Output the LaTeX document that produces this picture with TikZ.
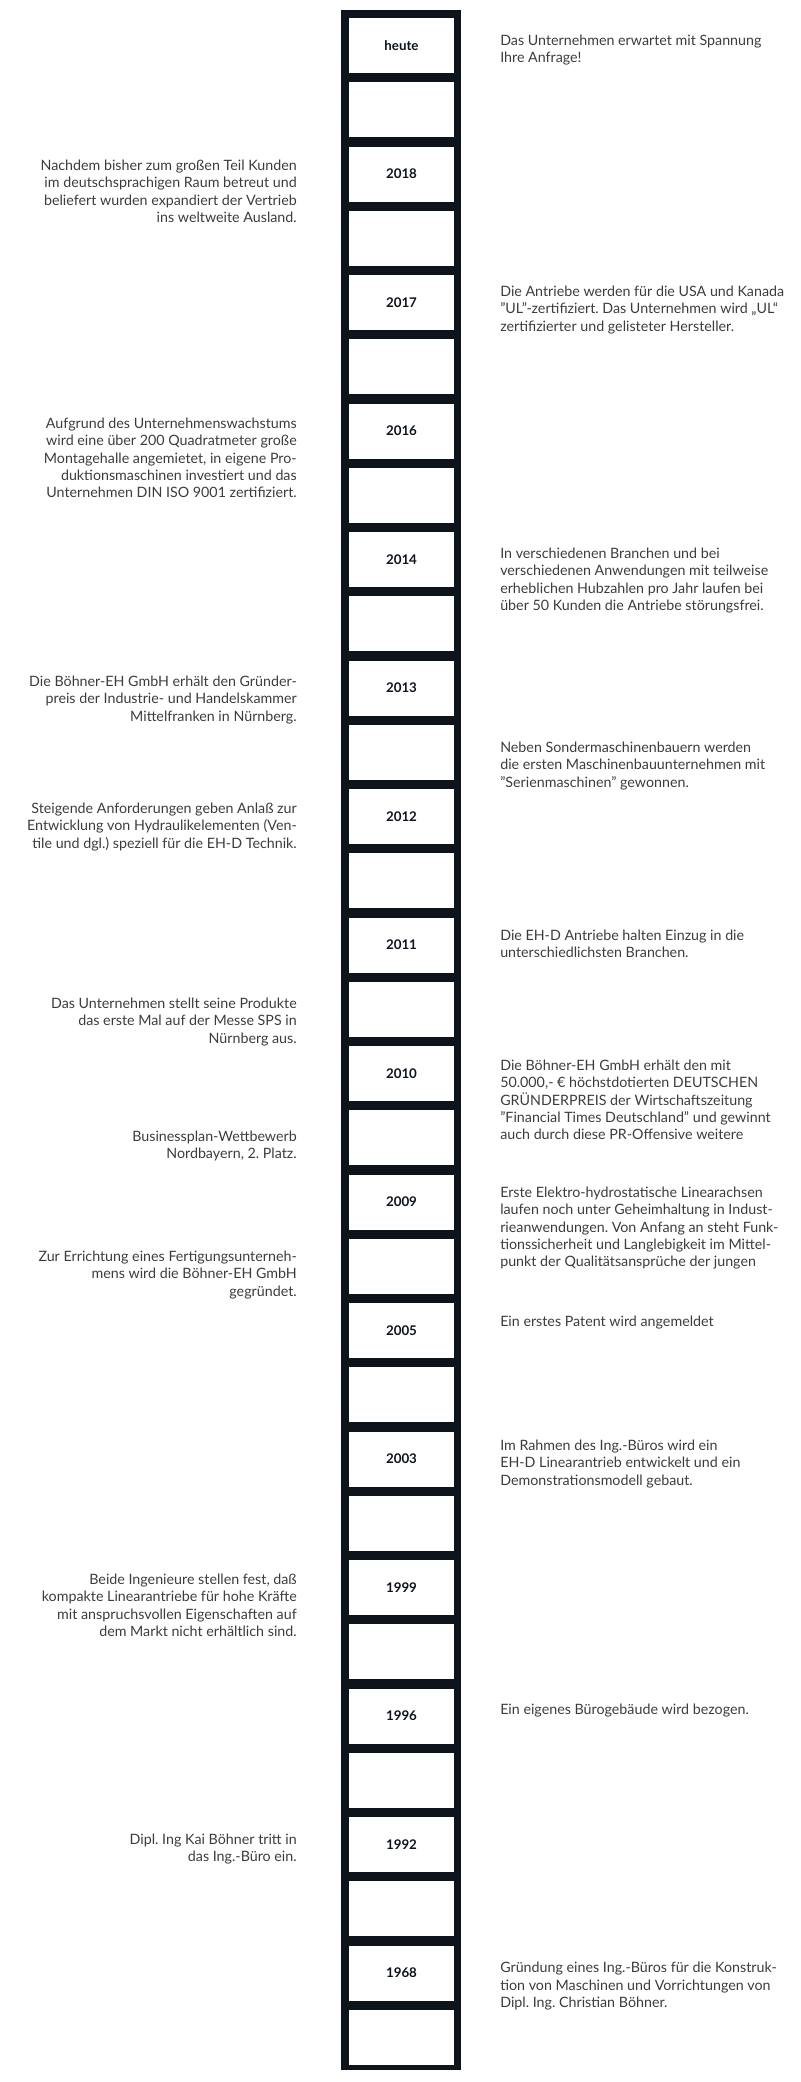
\documentclass[tikz,border=0pt]{standalone}
\usepackage{fontspec}
\setmainfont{Lato}
\frenchspacing
\definecolor{barcol}{HTML}{0D141C}
\definecolor{txtcol}{HTML}{3C3C3C}
\begin{document}
\begin{tikzpicture}[x=0.75pt,y=-0.75pt,
  desc/.style={font=\fontsize{10.7pt}{12.9pt}\selectfont, text=txtcol, inner sep=0pt},
  ldesc/.style={desc, align=right, anchor=north east},
  rdesc/.style={desc, align=left, anchor=north west},
  yearbox/.style={fill=white, draw=none, inner sep=0pt, minimum width=78.75pt, minimum height=41.25pt, font=\fontsize{10pt}{12pt}\selectfont\bfseries, text=barcol}]
\useasboundingbox (0,0) rectangle (800,2082);
\fill[barcol] (341,10) rectangle (461,2070);
\foreach \lab [count=\i from 0] in {heute,2018,2017,2016,2014,2013,2012,2011,2010,2009,2005,2003,1999,1996,1992,1968} {
  \node[yearbox] (y\i) at (401.5, {45.5+128.5*\i}) {\lab};
  \node[yearbox] (e\i) at (401.5, {45.5+64.25+128.5*\i}) {};
}
% right texts
\node[rdesc] (r0) at (500,35) {Das Unternehmen erwartet mit Spannung\\Ihre Anfrage!};
\node[rdesc] (r2) at (500,286) {Die Antriebe werden für die USA und Kanada\\"UL"-zertifiziert. Das Unternehmen wird „UL“\\zertifizierter und gelisteter Hersteller.};
\node[rdesc] (r4) at (500,548) {In verschiedenen Branchen und bei\\verschiedenen Anwendungen mit teilweise\\erheblichen Hubzahlen pro Jahr laufen bei\\über 50 Kunden die Antriebe störungsfrei.};
\node[rdesc] (r6) at (500,742) {Neben Sondermaschinenbauern werden\\die ersten Maschinenbauunternehmen mit\\"Serienmaschinen" gewonnen.};
\node[rdesc] (r7) at (500,930) {Die EH-D Antriebe halten Einzug in die\\unterschiedlichsten Branchen.};
\node[rdesc] (r8) at (500,1060) {Die Böhner-EH GmbH erhält den mit\\50.000,- € höchstdotierten DEUTSCHEN\\GRÜNDERPREIS der Wirtschaftszeitung\\"Financial Times Deutschland" und gewinnt\\auch durch diese PR-Offensive weitere};
\node[rdesc] (r9) at (500,1187) {Erste Elektro-hydrostatische Linearachsen\\laufen noch unter Geheimhaltung in Indust-\\rieanwendungen. Von Anfang an steht Funk-\\tionssicherheit und Langlebigkeit im Mittel-\\punkt der Qualitätsansprüche der jungen};
\node[rdesc] (r10) at (500,1316) {Ein erstes Patent wird angemeldet};
\node[rdesc] (r11) at (500,1440) {Im Rahmen des Ing.-Büros wird ein\\EH-D Linearantrieb entwickelt und ein\\Demonstrationsmodell gebaut.};
\node[rdesc] (r13) at (500,1704) {Ein eigenes Bürogebäude wird bezogen.};
\node[rdesc] (r15) at (500,1962) {Gründung eines Ing.-Büros für die Konstruk-\\tion von Maschinen und Vorrichtungen von\\Dipl. Ing. Christian Böhner.};
% left texts
\node[ldesc] (l1) at (297,160) {Nachdem bisher zum großen Teil Kunden\\im deutschsprachigen Raum betreut und\\beliefert wurden expandiert der Vertrieb\\ins weltweite Ausland.};
\node[ldesc] (l3) at (297,418) {Aufgrund des Unternehmenswachstums\\wird eine über 200 Quadratmeter große\\Montagehalle angemietet, in eigene Pro-\\duktionsmaschinen investiert und das\\Unternehmen DIN ISO 9001 zertifiziert.};
\node[ldesc] (l5) at (297,676) {Die Böhner-EH GmbH erhält den Gründer-\\preis der Industrie- und Handelskammer\\Mittelfranken in Nürnberg.};
\node[ldesc] (l6) at (297,803) {Steigende Anforderungen geben Anlaß zur\\Entwicklung von Hydraulikelementen (Ven-\\tile und dgl.) speziell für die EH-D Technik.};
\node[ldesc] (l8) at (297,998) {Das Unternehmen stellt seine Produkte\\das erste Mal auf der Messe SPS in\\Nürnberg aus.};
\node[ldesc] (l8b) at (297,1131) {Businessplan-Wettbewerb\\Nordbayern, 2. Platz.};
\node[ldesc] (l9) at (297,1251) {Zur Errichtung eines Fertigungsunterneh-\\mens wird die Böhner-EH GmbH\\gegründet.};
\node[ldesc] (l12) at (297,1574) {Beide Ingenieure stellen fest, daß\\kompakte Linearantriebe für hohe Kräfte\\mit anspruchsvollen Eigenschaften auf\\dem Markt nicht erhältlich sind.};
\node[ldesc] (l14) at (297,1834) {Dipl. Ing Kai Böhner tritt in\\das Ing.-Büro ein.};
\end{tikzpicture}
\end{document}
